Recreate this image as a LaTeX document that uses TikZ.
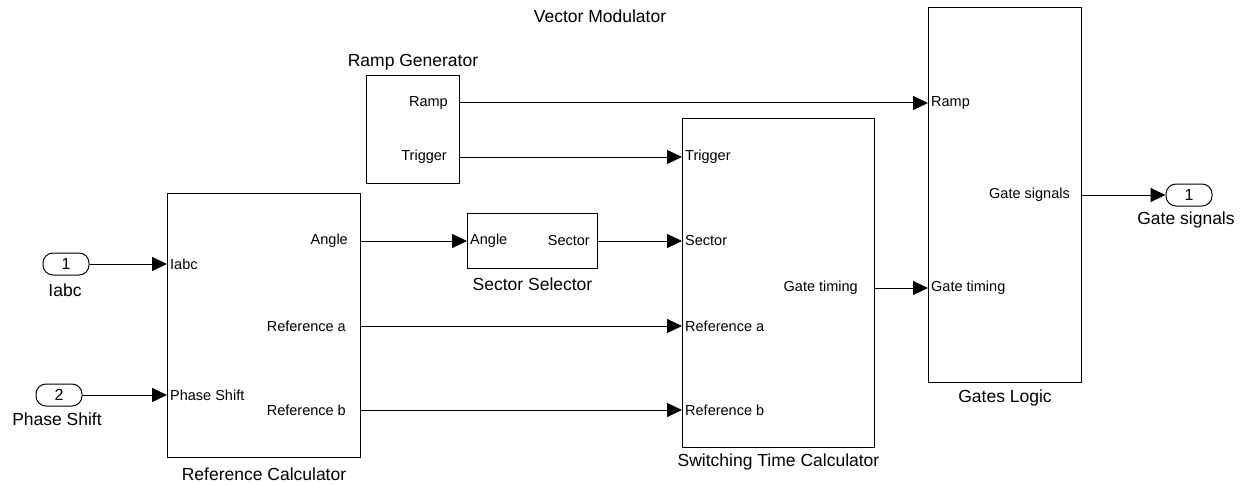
\documentclass[tikz,border=0pt]{standalone}
\usepackage{fontspec}
\setmainfont{Liberation Sans}
\usetikzlibrary{arrows.meta}
\begin{document}
\begin{tikzpicture}[x=1pt,y=-1pt,
  blk/.style={draw, line width=1pt, inner sep=0pt, anchor=north west},
  pin/.style={font=\fontsize{14.5}{16}\selectfont, inner sep=0pt},
  captxt/.style={font=\fontsize{17.5}{20}\selectfont, inner sep=0pt},
  sig/.style={line width=1pt, -{Triangle[length=15pt,width=14pt]}},
  io/.style={draw, line width=1pt, rounded corners=10pt, minimum width=46pt,
    minimum height=22pt, inner sep=0pt, font=\fontsize{16}{18}\selectfont}]
\useasboundingbox (0,0) rectangle (1246,484);

% title
\node[captxt] (title) at (600,16) {Vector Modulator};

% blocks
\node[blk, minimum width=193pt, minimum height=264pt] (rc) at (167,193) {};
\node[blk, minimum width=93pt, minimum height=108pt] (rg) at (366,75) {};
\node[blk, minimum width=130pt, minimum height=55pt] (ss) at (467,213) {};
\node[blk, minimum width=192pt, minimum height=329pt] (stc) at (682,118) {};
\node[blk, minimum width=153pt, minimum height=375pt] (gl) at (928,7) {};

% block captions
\node[captxt] (rccap) at ([yshift=-16pt]rc.south) {Reference Calculator};
\node[captxt] (rgcap) at ([yshift=13pt]rg.north) {Ramp Generator};
\node[captxt] (sscap) at ([yshift=-15pt]ss.south) {Sector Selector};
\node[captxt] (stccap) at ([yshift=-14pt]stc.south) {Switching Time Calculator};
\node[captxt] (glcap) at ([yshift=-15pt]gl.south) {Gates Logic};

% port positions on block edges
\coordinate (rc-i1) at (167,264);
\coordinate (rc-i2) at (167,395);
\coordinate (rc-ang) at (360,241);
\coordinate (rc-ra) at (360,326);
\coordinate (rc-rb) at (360,410);
\coordinate (rg-ramp) at (459,103);
\coordinate (rg-trig) at (459,157);
\coordinate (ss-ang) at (467,241);
\coordinate (ss-sec) at (597,241);
\coordinate (stc-trig) at (682,157);
\coordinate (stc-sec) at (682,241);
\coordinate (stc-ra) at (682,326);
\coordinate (stc-rb) at (682,410);
\coordinate (stc-gt) at (874,288);
\coordinate (gl-ramp) at (928,103);
\coordinate (gl-gt) at (928,288);
\coordinate (gl-gs) at (1081,195);

% port labels
\node[pin, anchor=west] (l1) at ([xshift=3pt]rc-i1) {Iabc};
\node[pin, anchor=west] (l2) at ([xshift=3pt]rc-i2) {Phase Shift};
\node[pin, anchor=east] (l3) at ([xshift=-12pt]rc-ang) {Angle};
\node[pin, anchor=east] (l4) at ([xshift=-14pt]rc-ra) {Reference a};
\node[pin, anchor=east] (l5) at ([xshift=-14pt]rc-rb) {Reference b};
\node[pin, anchor=east] (l6) at ([xshift=-11pt]rg-ramp) {Ramp};
\node[pin, anchor=east] (l7) at ([xshift=-12pt]rg-trig) {Trigger};
\node[pin, anchor=west] (l8) at ([xshift=3pt]ss-ang) {Angle};
\node[pin, anchor=east] (l9) at ([xshift=-7pt]ss-sec) {Sector};
\node[pin, anchor=west] (l10) at ([xshift=3pt]stc-trig) {Trigger};
\node[pin, anchor=west] (l11) at ([xshift=3pt]stc-sec) {Sector};
\node[pin, anchor=west] (l12) at ([xshift=3pt]stc-ra) {Reference a};
\node[pin, anchor=west] (l13) at ([xshift=3pt]stc-rb) {Reference b};
\node[pin, anchor=east] (l14) at ([xshift=-16pt]stc-gt) {Gate timing};
\node[pin, anchor=west] (l15) at ([xshift=3pt]gl-ramp) {Ramp};
\node[pin, anchor=west] (l16) at ([xshift=3pt]gl-gt) {Gate timing};
\node[pin, anchor=east] (l17) at ([xshift=-11pt]gl-gs) {Gate signals};

% inports and outport
\node[io] (in1) at (66,264) {1};
\node[captxt] (in1lbl) at (65,290) {Iabc};
\node[io] (in2) at (59,395) {2};
\node[captxt] (in2lbl) at (57,419) {Phase Shift};
\node[io] (out1) at (1189,195) {1};
\node[captxt] (out1lbl) at (1186,220) {Gate signals};

% signal lines
\draw[sig] (in1.east) -- (rc-i1);
\draw[sig] (in2.east) -- (rc-i2);
\draw[sig] (rc-ang) -- (ss-ang);
\draw[sig] (ss-sec) -- (stc-sec);
\draw[sig] (rc-ra) -- (stc-ra);
\draw[sig] (rc-rb) -- (stc-rb);
\draw[sig] (rg-ramp) -- (gl-ramp);
\draw[sig] (rg-trig) -- (stc-trig);
\draw[sig] (stc-gt) -- (gl-gt);
\draw[sig] (gl-gs) -- (out1.west);
\end{tikzpicture}
\end{document}
